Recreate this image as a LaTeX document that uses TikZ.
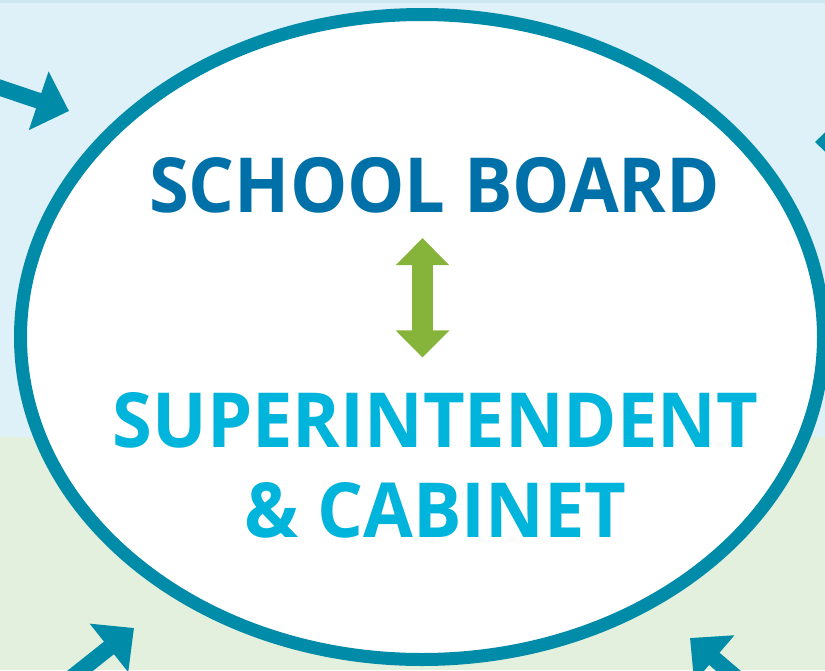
\documentclass[tikz,border=0pt]{standalone}
\usepackage{xcolor}
\usepackage{tikz}
\usepackage{fontspec}
\setmainfont{Open Sans}[FakeStretch=0.95]
\usetikzlibrary{arrows.meta, positioning, calc}
\definecolor{skyblue}{RGB}{222, 240, 248}
\definecolor{skyline}{RGB}{205, 230, 240}
\definecolor{meadowgreen}{RGB}{227, 240, 222}
\definecolor{ringteal}{RGB}{0, 139, 168}
\definecolor{boardblue}{RGB}{0, 112, 168}
\definecolor{cabinetcyan}{RGB}{0, 180, 220}
\definecolor{linkgreen}{RGB}{134, 180, 58}

\tikzset{
    pointer/.style={draw=ringteal, line width=16pt, -{Triangle[length=32pt, width=60pt]}},
    biarrow/.style={draw=linkgreen, line width=21pt,
        {Triangle[length=27pt, width=52pt]}-{Triangle[length=27pt, width=52pt]}},
    bigcaps/.style={font=\bfseries\fontsize{76}{90}\selectfont, inner sep=0pt, align=center}
}

\begin{document}
\begin{tikzpicture}[x=1pt, y=-1pt]
    \clip (0,0) rectangle (825,670);
    % sky and meadow bands
    \fill[skyblue] (0,0) rectangle (825,437);
    \fill[meadowgreen] (0,437) rectangle (825,670);
    \fill[skyline] (0,0) rectangle (825,3);

    % pointers coming in from outside
    \coordinate (nwtail) at (-26,79);
    \coordinate (nwtip) at (69,111);
    \coordinate (etail) at (900,142);
    \coordinate (etip) at (815,142);
    \coordinate (swtail) at (56,690);
    \coordinate (swtip) at (134,628);
    \coordinate (setail) at (766,703);
    \coordinate (setip) at (690,638);
    \draw[pointer] (nwtail) -- (nwtip);
    \draw[pointer] (etail) -- (etip);
    \draw[pointer] (swtail) -- (swtip);
    \draw[pointer] (setail) -- (setip);

    % the big ring
    \draw[ringteal, fill=white, line width=13pt] (422,337) ellipse [x radius=401.5, y radius=322.5];

    \node[bigcaps, text=boardblue] (board) at (434.5,185) {SCHOOL BOARD};
    \node[bigcaps, text=cabinetcyan] (cabinet) at (435.5,465.5) {SUPERINTENDENT\\\& CABINET};

    \draw[biarrow, shorten <=25pt, shorten >=35pt] ([xshift=-12pt]board.south) -- ([xshift=-12pt]board.south |- cabinet.north);
\end{tikzpicture}
\end{document}
